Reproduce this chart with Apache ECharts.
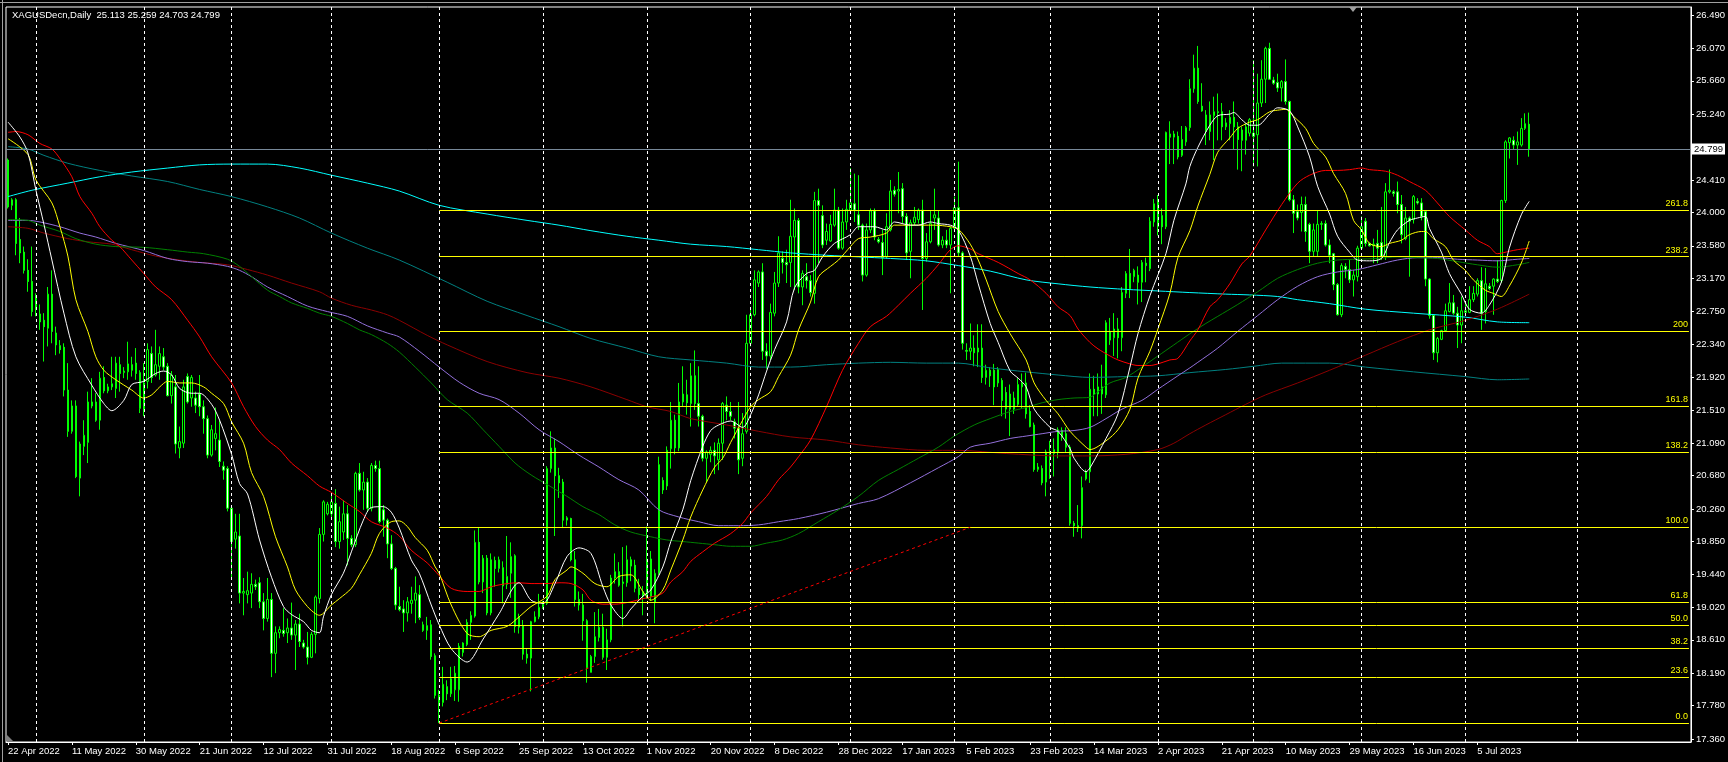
<!DOCTYPE html>
<html><head><meta charset="utf-8">
<script src="https://cdn.jsdelivr.net/npm/echarts@6/dist/echarts.min.js"></script>
<style>html,body{margin:0;padding:0;background:#000;overflow:hidden}#c{width:1728px;height:762px}</style>
</head><body><div id="c"></div>
<script>
// ---------- data ----------
const tickLabels = ["22 Apr 2022","11 May 2022","30 May 2022","21 Jun 2022","12 Jul 2022","31 Jul 2022","18 Aug 2022","6 Sep 2022","25 Sep 2022","13 Oct 2022","1 Nov 2022","20 Nov 2022","8 Dec 2022","28 Dec 2022","17 Jan 2023","5 Feb 2023","23 Feb 2023","14 Mar 2023","2 Apr 2023","21 Apr 2023","10 May 2023","29 May 2023","16 Jun 2023","5 Jul 2023"];
const tickEvery = 16;
const monthStarts = [7,34,56,81,108,134,160,186,211,237,261,288,312,339,365,393];
const slotCount = 422;
const yTicks = [17.36,17.78,18.19,18.61,19.02,19.44,19.85,20.26,20.68,21.09,21.51,21.92,22.34,22.75,23.17,23.58,24.00,24.41,25.24,25.66,26.07,26.49];

const open = [
24.66,24.09,24.16,23.66,23.50,23.27,23.13,22.78,22.72,22.64,
22.54,22.97,22.48,22.32,22.30,21.76,21.24,21.56,20.65,21.05,
21.10,21.61,21.61,21.38,21.92,21.75,21.80,21.78,22.08,21.98,
21.99,22.08,22.10,21.98,21.52,21.87,22.22,21.95,22.06,22.18,
22.06,21.69,21.80,21.03,21.09,21.93,21.66,21.66,21.71,21.55,
21.40,20.94,21.15,21.13,20.80,20.77,20.27,19.88,19.92,19.20,
19.18,19.20,19.31,19.33,19.09,18.88,19.12,18.44,18.70,18.73,
18.70,18.76,18.67,18.81,18.57,18.52,18.39,18.68,19.13,19.94,
20.20,20.20,20.33,19.85,19.97,20.20,19.89,19.81,20.71,20.50,
20.60,20.27,20.81,20.77,20.25,20.12,19.82,19.51,19.03,19.00,
18.95,19.07,19.11,19.18,18.80,18.73,18.80,18.41,17.91,17.82,
18.02,17.93,17.98,17.98,18.45,18.55,18.83,18.91,19.84,19.34,
19.64,18.95,19.61,19.51,19.52,19.31,19.45,19.67,18.77,18.79,
18.43,18.38,18.84,18.90,19.02,19.07,20.77,21.03,20.68,20.60,
20.12,20.14,19.62,19.12,19.05,18.85,18.20,18.40,18.64,18.77,
18.39,18.61,19.39,19.47,19.32,19.33,19.62,19.55,19.26,19.16,
19.16,19.63,19.08,19.45,20.62,20.55,21.02,21.38,21.03,21.61,
21.70,21.59,21.94,21.59,21.43,20.90,20.95,21.00,20.88,21.09,
21.57,21.49,21.36,21.28,20.90,21.24,22.35,22.71,23.11,23.25,
22.25,22.19,22.73,23.11,23.42,23.37,23.37,23.69,23.90,23.06,
23.19,23.14,22.98,24.15,23.96,23.65,23.64,23.84,24.03,23.55,
23.88,24.03,24.11,23.97,23.84,23.21,23.78,24.02,23.66,23.62,
23.44,23.78,24.28,24.27,24.30,23.95,23.51,23.87,23.91,24.03,
23.42,23.63,23.93,23.93,23.59,23.65,23.59,23.80,24.06,23.49,
22.26,22.25,22.29,22.29,22.29,21.92,22.01,22.01,21.85,21.88,
21.73,21.71,21.52,21.58,21.80,21.85,21.49,21.32,20.76,20.77,
20.60,20.98,20.96,20.98,21.25,21.21,21.04,20.08,20.05,20.05,
20.64,20.73,21.77,21.71,21.80,21.70,22.50,22.42,22.53,22.42,
22.98,23.23,23.19,23.21,23.12,23.36,23.29,23.88,24.13,23.96,
23.82,24.99,24.95,24.96,24.72,24.89,25.07,25.56,25.82,25.34,
25.23,25.02,25.22,25.27,25.27,25.08,25.12,25.20,25.08,25.04,
24.91,25.00,25.00,24.98,25.38,25.68,26.07,25.67,25.64,25.57,
25.65,25.40,24.16,24.01,24.00,24.10,23.85,23.51,23.51,23.85,
23.86,23.59,23.48,23.09,22.71,23.32,23.28,23.15,23.19,23.55,
23.89,23.61,23.58,23.61,23.62,23.44,24.26,24.26,24.26,24.10,
23.67,23.93,23.91,24.14,24.12,24.01,23.16,22.70,22.23,22.40,
22.51,22.75,22.86,22.73,22.58,22.76,22.74,22.90,22.97,23.14,
22.75,23.07,23.07,23.16,23.14,24.15,24.88,24.91,24.85,24.85,
25.06,25.113];
const high = [
24.68,24.18,24.18,23.93,23.57,23.41,23.57,22.98,22.84,22.73,
23.06,23.27,22.56,22.39,22.35,22.10,21.63,21.63,21.11,21.38,
21.74,21.91,21.72,21.99,22.06,21.84,22.18,22.18,22.18,22.05,
22.37,22.18,22.29,22.01,22.10,22.35,22.31,22.52,22.31,22.29,
22.10,22.00,21.95,21.30,21.89,21.97,21.95,21.74,21.95,21.63,
21.44,21.32,21.54,21.38,20.86,20.80,20.30,20.20,20.20,19.39,
19.47,19.45,19.37,19.40,19.20,19.39,19.20,18.78,18.78,19.01,
18.88,19.08,18.86,18.94,18.61,18.71,18.71,19.17,20.02,20.37,
20.35,20.45,20.51,20.29,20.37,20.31,19.93,20.73,20.84,20.73,
20.65,20.84,20.87,20.87,20.31,20.14,19.93,19.53,19.28,19.11,
19.15,19.28,19.41,19.30,18.84,18.90,18.86,18.44,17.98,18.27,
18.10,18.27,18.28,18.57,18.58,18.87,18.97,19.99,20.03,19.68,
19.68,19.70,19.66,19.66,19.60,19.92,19.84,19.69,18.94,18.86,
18.50,18.85,18.97,19.19,19.10,20.80,21.24,21.15,20.78,20.64,
20.17,20.15,19.73,19.22,19.19,18.87,18.42,18.96,19.00,18.94,
18.75,19.43,19.70,19.59,19.78,19.80,19.66,19.62,19.38,19.29,
20.04,19.73,19.50,20.92,20.66,21.05,21.61,21.45,21.85,22.06,
21.89,22.10,22.26,22.06,21.45,21.00,21.05,21.10,21.15,21.61,
21.68,21.61,21.40,21.61,21.47,22.71,22.79,23.27,23.27,23.36,
22.35,22.85,23.25,23.70,23.51,23.53,24.16,24.05,23.93,23.27,
23.36,23.21,24.26,24.30,24.09,23.86,23.97,24.30,24.07,24.05,
24.16,24.56,24.49,24.47,23.86,23.86,24.05,24.05,23.69,23.78,
23.99,24.41,24.33,24.51,24.37,23.99,23.91,24.07,24.05,24.16,
23.74,24.03,24.30,24.03,23.70,23.78,23.82,24.20,24.64,23.51,
22.35,22.60,22.45,22.59,22.59,22.08,22.05,22.09,22.05,21.91,
21.80,21.83,21.74,21.91,21.97,21.98,21.57,21.35,20.84,20.81,
21.01,21.12,21.15,21.29,21.29,21.29,21.07,20.11,20.31,20.67,
20.76,21.97,21.94,21.97,22.08,22.64,22.67,22.73,22.67,23.06,
23.26,23.54,23.29,23.32,23.40,23.43,23.94,24.17,24.22,24.05,
25.02,25.15,25.03,25.02,25.09,25.09,25.68,25.99,26.10,25.63,
25.29,25.40,25.46,25.50,25.38,25.19,25.29,25.40,25.14,25.08,
25.12,25.19,25.92,25.75,25.92,26.09,26.14,25.71,25.75,25.67,
25.93,25.41,24.22,24.10,24.20,24.20,23.87,23.86,24.03,23.89,
23.90,23.66,23.49,23.11,23.36,23.36,23.40,23.27,23.58,23.95,
23.93,23.62,23.67,23.78,24.07,24.37,24.54,24.28,24.39,24.22,
24.07,23.95,24.22,24.18,24.18,24.03,23.17,22.71,22.43,22.52,
22.85,23.11,22.96,22.81,22.94,22.85,23.07,23.07,23.17,23.31,
23.30,23.11,23.17,23.40,24.16,24.91,24.95,24.96,25.02,25.19,
25.25,25.259];
const low = [
24.05,24.03,23.46,23.36,23.23,23.00,22.69,22.69,22.52,22.12,
22.31,22.35,22.20,22.22,21.68,21.17,21.21,20.65,20.42,20.94,
20.84,21.53,21.36,21.26,21.72,21.72,21.76,21.66,21.74,21.91,
21.89,21.93,21.89,21.47,21.43,21.78,21.85,21.93,21.89,22.01,
21.68,21.59,20.96,20.90,21.03,21.59,21.55,21.47,21.43,21.21,
20.90,20.92,21.00,20.79,20.63,20.23,19.37,19.76,19.07,18.92,
19.07,19.01,19.24,19.01,18.73,18.84,18.14,18.19,18.63,18.65,
18.57,18.61,18.23,18.52,18.50,18.30,18.38,18.44,19.07,19.85,
20.18,20.15,19.78,19.76,19.87,19.55,19.78,19.78,20.48,20.25,
20.23,20.23,20.73,20.08,19.91,19.64,19.49,18.99,18.97,18.71,
18.84,18.94,18.82,18.86,18.71,18.61,18.36,17.87,17.56,17.77,
17.85,17.89,17.84,17.83,18.40,18.53,18.61,18.89,19.31,19.20,
18.92,18.92,19.28,19.46,19.07,19.25,19.14,18.70,18.69,18.36,
18.31,17.96,18.83,18.87,19.00,19.05,20.72,19.92,20.40,20.02,
20.05,19.60,19.03,18.98,18.60,18.07,18.20,18.32,18.59,18.36,
18.23,18.58,19.32,19.28,18.78,19.28,19.35,19.21,19.11,18.92,
19.13,19.10,18.82,19.43,20.45,20.50,20.77,20.95,20.99,21.55,
21.45,21.30,21.51,21.30,20.86,20.60,20.85,20.70,20.75,20.88,
21.38,21.38,21.15,20.70,20.80,21.21,22.31,22.69,23.06,22.14,
22.03,22.14,22.69,23.06,23.23,23.11,23.06,23.02,22.98,22.83,
23.04,22.94,22.85,23.36,23.55,23.59,23.63,23.82,23.53,23.53,
23.78,23.99,23.88,23.78,23.13,23.19,23.74,23.65,23.61,23.21,
23.42,23.76,24.20,23.99,23.86,23.40,23.17,23.84,23.86,22.77,
23.38,23.61,23.78,23.57,23.55,23.55,22.98,23.78,23.44,22.27,
22.14,22.14,22.06,22.05,21.85,21.83,21.80,21.57,21.80,21.43,
21.40,21.18,21.46,21.56,21.53,21.40,21.29,20.73,20.73,20.56,
20.42,20.64,20.67,20.90,21.12,20.98,20.05,19.91,19.97,19.89,
20.62,20.59,21.43,21.43,21.46,21.66,22.33,22.19,22.16,22.25,
22.92,22.92,23.12,22.84,22.87,23.12,23.26,23.82,23.71,23.60,
23.79,24.61,24.61,24.67,24.70,24.84,25.03,25.51,25.37,25.27,
24.85,24.91,24.66,24.91,24.91,25.04,24.91,24.79,24.54,24.52,
24.73,24.96,24.58,24.58,25.33,25.38,25.67,25.61,25.52,25.40,
25.36,24.14,23.74,23.90,23.76,23.63,23.36,23.44,23.44,23.78,
23.57,23.36,23.02,22.70,22.68,23.17,23.11,22.94,23.13,23.53,
23.57,23.57,23.36,23.36,23.40,23.40,24.24,24.20,23.99,23.61,
23.65,23.19,23.86,24.10,23.90,23.07,22.66,22.14,22.11,22.39,
22.50,22.74,22.71,22.29,22.35,22.73,22.73,22.87,22.94,22.52,
22.60,23.02,22.71,23.11,23.11,24.12,24.68,24.80,24.60,24.83,
25.04,24.703];
const close = [
24.07,24.16,23.61,23.49,23.27,23.13,22.75,22.95,22.62,22.56,
22.97,22.50,22.33,22.27,21.76,21.24,21.56,20.67,21.08,21.19,
21.61,21.56,21.38,21.91,21.75,21.80,21.84,22.10,21.97,22.00,
22.09,22.01,21.97,21.53,21.85,22.27,21.92,22.08,22.22,22.05,
21.69,21.95,21.08,21.11,21.80,21.61,21.92,21.57,21.55,21.40,
20.94,21.26,21.21,20.86,20.75,20.27,19.85,19.97,19.20,19.22,
19.23,19.31,19.28,19.09,18.88,19.12,18.44,18.70,18.74,18.69,
18.76,18.67,18.81,18.59,18.52,18.39,18.68,19.15,19.94,20.35,
20.32,20.35,19.85,20.10,20.20,19.89,19.81,20.71,20.50,20.60,
20.27,20.81,20.77,20.10,20.12,19.82,19.51,19.05,18.99,18.95,
19.09,19.11,19.20,18.89,18.73,18.79,18.40,17.91,17.82,18.05,
17.93,18.12,18.19,18.53,18.57,18.83,18.92,19.84,19.34,19.64,
18.95,19.62,19.51,19.62,19.29,19.41,19.66,18.78,18.90,18.43,
18.38,18.84,18.90,19.02,19.06,20.77,21.03,20.68,20.59,20.12,
20.15,19.62,19.12,19.05,18.85,18.26,18.40,18.65,18.77,18.39,
18.61,19.39,19.47,19.30,19.34,19.62,19.54,19.26,19.18,19.22,
19.63,19.16,19.45,20.82,20.50,21.00,21.38,21.03,21.61,21.71,
21.60,21.94,21.59,21.43,20.90,20.98,21.00,20.93,21.09,21.59,
21.49,21.43,21.28,20.88,21.21,22.35,22.71,23.15,23.25,22.25,
22.19,22.74,23.11,23.49,23.37,23.34,23.70,23.90,23.06,23.23,
23.14,22.99,24.15,24.09,23.59,23.76,23.85,24.03,23.55,23.88,
24.04,24.12,24.03,23.84,23.21,23.78,24.02,23.69,23.63,23.43,
23.82,24.27,24.23,24.29,23.95,23.49,23.87,23.94,24.03,23.42,
23.63,23.86,23.97,23.59,23.65,23.59,23.80,24.06,23.49,22.35,
22.25,22.29,22.23,22.24,21.92,22.01,21.94,21.80,22.02,21.63,
21.52,21.52,21.66,21.83,21.85,21.46,21.30,20.76,20.79,20.59,
20.98,20.90,21.01,21.26,21.17,21.04,20.08,20.05,20.02,20.53,
20.73,21.77,21.71,21.80,21.71,22.61,22.39,22.53,22.42,22.99,
23.23,23.04,23.27,23.12,23.37,23.33,23.89,24.11,23.82,23.82,
25.01,24.95,24.99,24.70,24.92,25.07,25.56,25.82,25.40,25.28,
25.02,25.23,25.27,25.26,25.08,25.13,25.20,25.08,24.92,24.91,
25.08,25.17,24.96,25.38,25.68,26.07,25.68,25.63,25.57,25.65,
25.40,24.16,23.99,23.93,24.10,23.76,23.51,23.78,23.85,23.86,
23.59,23.46,23.09,22.71,23.33,23.28,23.15,23.21,23.55,23.82,
23.61,23.58,23.60,23.55,23.44,24.26,24.28,24.24,24.10,23.72,
23.93,23.89,24.20,24.12,23.95,23.16,22.70,22.23,22.41,22.51,
22.76,22.86,22.73,22.58,22.76,22.74,22.90,22.98,23.14,22.73,
23.10,23.04,23.16,23.13,24.15,24.89,24.94,24.85,24.89,25.06,
25.12,24.799];

// moving-average lines as [bar, price]
const maWhite = [[0,25.14],[3,24.95],[5,24.75],[7,24.28],[9,23.85],[11,23.40],[14,22.73],[17,22.18],[21,21.82],[24,21.59],[26,21.50],[29,21.63],[31,21.83],[34,21.87],[37,21.97],[39,22.00],[41,21.95],[43,21.78],[46,21.72],[48,21.72],[51,21.58],[53,21.38],[56,20.95],[58,20.58],[60,20.45],[63,19.87],[66,19.40],[69,19.03],[71,18.93],[74,18.84],[76,18.73],[78,18.70],[79,18.90],[81,19.18],[84,19.45],[86,19.72],[89,20.12],[91,20.28],[94,20.29],[96,20.22],[98,20.02],[101,19.62],[103,19.45],[106,19.05],[108,18.80],[111,18.50],[115,18.33],[119,18.62],[123,18.94],[128,19.33],[131,19.11],[134,19.07],[137,19.32],[140,19.66],[143,19.77],[146,19.70],[149,19.28],[151,19.05],[154,18.88],[156,19.00],[159,19.16],[161,19.24],[164,19.53],[166,19.85],[169,20.25],[171,20.62],[174,21.05],[176,21.25],[178,21.32],[181,21.37],[184,21.29],[186,21.45],[188,21.70],[190,22.00],[192,22.27],[195,22.62],[197,23.05],[200,23.23],[202,23.27],[204,23.44],[207,23.61],[211,23.72],[213,23.82],[217,23.82],[220,23.78],[222,23.88],[226,23.84],[228,23.84],[231,23.88],[233,23.86],[236,23.84],[238,23.78],[241,23.45],[243,23.10],[246,22.60],[248,22.36],[251,22.00],[253,21.91],[255,21.80],[257,21.52],[261,21.29],[263,21.24],[266,21.02],[267,20.90],[270,20.73],[271,20.78],[275,21.15],[278,21.46],[281,22.05],[283,22.47],[286,22.95],[290,23.48],[292,23.90],[295,24.36],[296,24.58],[298,24.82],[301,25.10],[303,25.22],[306,25.24],[307,25.26],[309,25.17],[311,25.10],[313,25.10],[316,25.24],[318,25.32],[321,25.28],[323,25.08],[326,24.70],[328,24.33],[331,23.98],[333,23.70],[336,23.50],[338,23.40],[341,23.39],[344,23.42],[346,23.62],[348,23.78],[351,23.90],[353,23.93],[355,23.95],[356,23.80],[359,23.50],[361,23.23],[364,22.97],[366,22.78],[369,22.73],[371,22.83],[374,23.12],[376,23.55],[379,23.97],[381,24.14]];
const maYellow = [[0,24.93],[5,24.73],[7,24.41],[11,24.12],[13,23.82],[15,23.45],[17,22.90],[20,22.50],[22,22.18],[24,22.01],[27,21.89],[31,21.76],[34,21.66],[36,21.70],[38,21.80],[40,21.87],[43,21.85],[46,21.85],[49,21.80],[51,21.72],[54,21.59],[56,21.36],[59,21.09],[61,20.72],[64,20.42],[67,19.91],[70,19.53],[72,19.24],[75,19.03],[77,18.94],[78,18.92],[81,19.05],[83,19.13],[86,19.26],[88,19.43],[91,19.70],[93,19.95],[96,20.10],[98,20.11],[100,20.04],[102,19.90],[105,19.74],[107,19.53],[108,19.45],[111,19.05],[115,18.69],[118,18.65],[121,18.73],[125,18.78],[128,18.90],[131,19.03],[135,19.16],[137,19.37],[140,19.49],[141,19.53],[144,19.45],[147,19.32],[150,19.28],[153,19.41],[156,19.43],[159,19.22],[161,19.11],[164,19.24],[166,19.49],[169,19.87],[171,20.16],[174,20.50],[177,20.79],[179,20.90],[181,21.10],[184,21.38],[186,21.55],[188,21.64],[191,21.74],[193,21.93],[196,22.20],[198,22.52],[201,22.87],[203,23.19],[206,23.32],[208,23.40],[211,23.57],[213,23.67],[216,23.69],[220,23.74],[222,23.84],[226,23.84],[229,23.84],[232,23.84],[236,23.82],[238,23.79],[241,23.60],[243,23.40],[245,23.15],[248,22.75],[251,22.47],[255,22.14],[257,21.85],[260,21.63],[263,21.46],[266,21.24],[270,21.04],[271,21.01],[275,21.12],[278,21.26],[281,21.52],[283,21.91],[286,22.25],[288,22.53],[291,22.98],[293,23.43],[296,23.77],[298,24.08],[301,24.48],[303,24.76],[306,24.94],[308,25.06],[311,25.14],[313,25.17],[316,25.27],[318,25.29],[320,25.30],[322,25.21],[325,25.06],[327,24.87],[330,24.70],[332,24.49],[335,24.24],[337,23.90],[339,23.78],[341,23.61],[344,23.57],[346,23.61],[349,23.65],[351,23.72],[354,23.76],[355,23.76],[357,23.67],[360,23.57],[362,23.40],[365,23.27],[367,23.15],[370,23.02],[372,22.98],[374,22.94],[376,23.07],[379,23.36],[381,23.64]];
const maRed = [[0,25.01],[2,25.02],[5,24.98],[8,24.87],[11,24.80],[13,24.68],[16,24.45],[18,24.20],[21,23.99],[23,23.82],[26,23.65],[28,23.57],[31,23.40],[34,23.23],[37,23.06],[41,22.90],[45,22.64],[48,22.43],[51,22.18],[56,21.85],[59,21.55],[62,21.30],[65,21.13],[68,21.01],[71,20.84],[75,20.68],[78,20.55],[81,20.47],[85,20.33],[88,20.23],[91,20.10],[95,20.02],[98,19.92],[101,19.74],[105,19.58],[108,19.42],[111,19.26],[115,19.22],[118,19.22],[121,19.28],[125,19.32],[128,19.33],[131,19.32],[135,19.32],[138,19.33],[141,19.32],[144,19.24],[146,19.11],[149,19.06],[152,19.06],[156,19.09],[159,19.13],[161,19.15],[164,19.20],[166,19.34],[169,19.47],[171,19.60],[174,19.72],[177,19.83],[181,19.95],[184,20.08],[186,20.21],[190,20.42],[193,20.63],[196,20.79],[198,20.92],[201,21.13],[205,21.55],[209,22.01],[213,22.35],[216,22.56],[220,22.69],[223,22.83],[226,22.98],[230,23.17],[233,23.34],[236,23.53],[238,23.58],[241,23.54],[243,23.48],[248,23.37],[253,23.23],[256,23.15],[260,22.98],[263,22.81],[266,22.70],[268,22.53],[271,22.36],[273,22.28],[276,22.19],[278,22.14],[281,22.09],[283,22.07],[286,22.07],[288,22.09],[291,22.14],[293,22.16],[296,22.38],[298,22.52],[301,22.81],[303,22.90],[306,23.10],[309,23.35],[311,23.45],[315,23.78],[319,24.10],[323,24.37],[326,24.47],[330,24.53],[333,24.53],[336,24.54],[339,24.56],[341,24.54],[345,24.52],[348,24.47],[351,24.39],[355,24.28],[358,24.12],[361,23.95],[365,23.78],[368,23.65],[371,23.57],[373,23.48],[376,23.51],[378,23.53],[381,23.55]];
const maGreen = [[0,23.91],[5,23.90],[8,23.84],[13,23.76],[17,23.67],[22,23.60],[27,23.57],[34,23.56],[40,23.53],[45,23.50],[49,23.48],[55,23.41],[58,23.32],[61,23.19],[65,23.02],[68,22.94],[71,22.86],[75,22.79],[78,22.73],[81,22.69],[85,22.60],[88,22.52],[91,22.46],[95,22.35],[98,22.24],[102,22.05],[106,21.85],[110,21.64],[115,21.47],[119,21.26],[123,21.05],[127,20.84],[131,20.69],[136,20.54],[140,20.42],[144,20.29],[148,20.19],[152,20.06],[156,19.97],[161,19.91],[165,19.87],[169,19.85],[173,19.83],[177,19.81],[181,19.79],[186,19.79],[190,19.83],[194,19.87],[198,19.95],[203,20.10],[208,20.25],[213,20.42],[218,20.62],[223,20.76],[228,20.90],[233,21.04],[237,21.18],[242,21.32],[246,21.40],[251,21.49],[255,21.54],[259,21.60],[263,21.64],[267,21.66],[271,21.67],[273,21.74],[276,21.85],[280,21.92],[284,22.05],[288,22.19],[292,22.33],[296,22.47],[300,22.60],[303,22.69],[308,22.84],[313,23.00],[318,23.17],[323,23.28],[328,23.36],[333,23.40],[338,23.41],[343,23.42],[348,23.44],[353,23.43],[358,23.42],[363,23.38],[368,23.34],[373,23.31],[378,23.34],[381,23.37]];
const maPurple = [[0,23.90],[5,23.90],[8,23.88],[13,23.82],[18,23.74],[22,23.69],[27,23.61],[34,23.52],[40,23.42],[45,23.38],[50,23.36],[55,23.32],[58,23.27],[61,23.19],[65,23.06],[70,22.94],[75,22.82],[80,22.75],[85,22.69],[90,22.57],[95,22.48],[98,22.43],[103,22.25],[108,22.05],[113,21.86],[118,21.72],[123,21.64],[128,21.47],[133,21.26],[138,21.11],[143,20.94],[148,20.79],[153,20.63],[158,20.50],[163,20.25],[168,20.16],[173,20.10],[178,20.05],[183,20.05],[188,20.06],[193,20.10],[198,20.14],[205,20.22],[213,20.33],[218,20.39],[226,20.59],[233,20.78],[238,20.92],[241,21.04],[246,21.09],[251,21.15],[255,21.18],[259,21.21],[263,21.24],[267,21.25],[271,21.29],[275,21.40],[279,21.52],[284,21.63],[288,21.77],[293,21.94],[296,22.04],[298,22.11],[303,22.29],[308,22.50],[313,22.70],[318,22.90],[323,23.07],[328,23.19],[333,23.25],[338,23.28],[343,23.34],[348,23.40],[353,23.43],[358,23.43],[363,23.41],[368,23.40],[373,23.39],[378,23.41],[381,23.42]];
const maMaroon = [[0,23.82],[5,23.80],[9,23.74],[15,23.67],[20,23.63],[26,23.60],[31,23.53],[37,23.45],[43,23.40],[48,23.37],[55,23.34],[60,23.28],[65,23.21],[71,23.11],[78,23.00],[81,22.92],[86,22.83],[91,22.77],[95,22.71],[98,22.64],[105,22.45],[110,22.33],[120,22.12],[130,21.98],[138,21.91],[146,21.80],[155,21.64],[160,21.55],[166,21.49],[171,21.40],[180,21.32],[188,21.24],[196,21.17],[205,21.13],[213,21.07],[221,21.03],[230,21.00],[238,21.00],[250,20.96],[263,20.93],[271,20.93],[280,20.95],[288,21.01],[292,21.09],[296,21.21],[300,21.32],[305,21.45],[310,21.58],[315,21.70],[323,21.85],[331,22.01],[340,22.20],[348,22.37],[356,22.52],[365,22.64],[373,22.78],[381,22.97]];
const maTeal = [[0,24.83],[5,24.80],[9,24.72],[15,24.62],[23,24.53],[31,24.46],[40,24.39],[48,24.29],[56,24.20],[65,24.07],[73,23.93],[81,23.74],[90,23.55],[98,23.40],[110,23.12],[120,22.88],[130,22.70],[138,22.56],[146,22.41],[155,22.29],[163,22.18],[171,22.14],[180,22.10],[188,22.05],[196,22.05],[205,22.08],[213,22.10],[221,22.11],[230,22.10],[238,22.10],[246,22.04],[255,21.99],[263,21.95],[271,21.92],[280,21.93],[288,21.94],[296,21.98],[305,22.02],[312,22.06],[319,22.10],[331,22.10],[340,22.05],[352,21.99],[365,21.93],[373,21.89],[381,21.90]];
const maCyan = [[0,24.20],[6,24.28],[15,24.37],[23,24.45],[31,24.51],[40,24.56],[48,24.60],[56,24.61],[65,24.61],[73,24.56],[81,24.47],[90,24.37],[98,24.27],[108,24.09],[120,23.98],[130,23.90],[138,23.84],[146,23.77],[155,23.70],[163,23.65],[171,23.60],[180,23.57],[188,23.53],[196,23.49],[205,23.46],[213,23.44],[221,23.42],[230,23.39],[238,23.33],[246,23.26],[255,23.15],[263,23.10],[271,23.06],[280,23.03],[288,23.01],[296,22.99],[305,22.97],[311,22.96],[318,22.94],[323,22.90],[331,22.85],[340,22.78],[352,22.73],[365,22.68],[373,22.62],[381,22.61]];

// Fibonacci tool anchors and trend line
const fibLow = 17.56, fibHigh = 20.03, fibStartBar = 108;
const fibLevels = [0, 23.6, 38.2, 50, 61.8, 100, 138.2, 161.8, 200, 238.2, 261.8];
const fibLabels = ['0.0','23.6','38.2','50.0','61.8','100.0','138.2','161.8','200','238.2','261.8'];
const trendFrom = [108, 17.56], trendTo = [241, 20.03];
const lastPrice = 24.799;
const titleText = 'XAGUSDecn,Daily  25.113 25.259 24.703 24.799';

// ---------- chart ----------
const FONT = '"Liberation Sans", Arial, sans-serif';
const slots = Array.from({length: slotCount}, (_, i) => String(i));
const candles = open.map((o, i) => [o, close[i], low[i], high[i]]);
const showTick = (i) => i % tickEvery === 0 && (i / tickEvery) < tickLabels.length;

function maSeries(data, color) {
  return {type: 'line', data, smooth: 0.3, symbol: 'none', silent: true, z: 3,
    lineStyle: {color, width: 1}, animation: false};
}

const fibLineData = fibLevels.map((lv, k) => {
  const price = fibLow + (fibHigh - fibLow) * lv / 100;
  return [
    {coord: [fibStartBar, price], label: {show: true, formatter: fibLabels[k]}},
    {coord: [slotCount - 1, price]}
  ];
});

const chart = echarts.init(document.getElementById('c'), null, {renderer: 'canvas'});
chart.setOption({
  backgroundColor: '#000',
  animation: false,
  grid: {left: 6, right: 35, top: 7, bottom: 20, show: true, borderColor: '#ffffff', borderWidth: 1, backgroundColor: 'transparent'},
  xAxis: {
    type: 'category', data: slots, boundaryGap: true,
    axisLine: {show: true, lineStyle: {color: '#ffffff', width: 1}},
    axisTick: {show: true, alignWithLabel: true, length: 3, interval: (i) => showTick(i), lineStyle: {color: '#ffffff'}},
    axisLabel: {show: true, interval: (i) => showTick(i), formatter: (v, i) => showTick(i) ? tickLabels[i / tickEvery] : '',
      color: '#ffffff', fontSize: 9.5, fontFamily: FONT, align: 'left', margin: 4},
    splitLine: {show: false}
  },
  yAxis: {
    type: 'value', position: 'right', min: 17.322, max: 26.591,
    axisLine: {show: true, lineStyle: {color: '#ffffff', width: 1}},
    axisTick: {show: true, length: 3, customValues: yTicks, lineStyle: {color: '#ffffff'}},
    axisLabel: {show: true, customValues: yTicks, formatter: (v) => v.toFixed(3), color: '#ffffff', fontSize: 9.5, fontFamily: FONT, margin: 5},
    splitLine: {show: false}
  },
  series: [
    { // month separators
      type: 'line', data: [], z: 1, silent: true,
      markLine: {silent: true, symbol: ['none', 'none'], animation: false,
        lineStyle: {color: '#ffffff', type: [3, 3], width: 1},
        label: {show: false},
        data: monthStarts.map(m => ({xAxis: m}))}
    },
    {
      type: 'candlestick', data: candles, barWidth: 2, z: 2, silent: true,
      itemStyle: {color: '#000000', color0: '#ffffff', borderColor: '#00ff00', borderColor0: '#00ff00', borderColorDoji: '#00ff00', borderWidth: 1}
    },
    maSeries(maTeal, '#008080'),
    maSeries(maCyan, '#00ffff'),
    maSeries(maMaroon, '#8b0000'),
    maSeries(maPurple, '#9370db'),
    maSeries(maGreen, '#008000'),
    maSeries(maRed, '#ff0000'),
    maSeries(maYellow, '#ffff00'),
    maSeries(maWhite, '#ffffff'),
    { // fibo, trend line, bid line
      type: 'line', data: [], z: 4, silent: true,
      markLine: {silent: true, symbol: ['none', 'none'], animation: false, precision: 3,
        lineStyle: {color: '#ffff00', type: 'solid', width: 1},
        label: {show: false, position: 'insideEndTop', color: '#ffff00', fontSize: 9, fontFamily: FONT, distance: [1, 2]},
        data: [
          ...fibLineData,
          [{coord: trendFrom, lineStyle: {color: '#ff0000', type: [3, 3], width: 1}, label: {show: false}}, {coord: trendTo}],
          {yAxis: lastPrice, lineStyle: {color: '#778899', type: 'solid', width: 1},
            label: {show: true, position: 'end', formatter: lastPrice.toFixed(3), color: '#000000', backgroundColor: '#ffffff',
              padding: [1, 2, 0, 2], fontSize: 9.5, fontFamily: FONT, distance: 1}}
        ]}
    }
  ],
  graphic: [
    {type: 'text', x: 12, y: 15, silent: true, style: {text: titleText, fill: '#ffffff', fontSize: 9.5, fontFamily: FONT, verticalAlign: 'middle'}},
    {type: 'line', silent: true, shape: {x1: 0, y1: 2.5, x2: 1728, y2: 2.5}, style: {stroke: '#a0a0a0', lineWidth: 1}},
    {type: 'line', silent: true, shape: {x1: 2.5, y1: 0, x2: 2.5, y2: 762}, style: {stroke: '#a0a0a0', lineWidth: 1}},
    {type: 'polygon', silent: true, shape: {points: [[7, 735], [7, 742], [14, 742]]}, style: {fill: '#808080'}},
    {type: 'polygon', silent: true, shape: {points: [[1349, 7], [1357, 7], [1353, 12]]}, style: {fill: '#a0a0a0'}}
  ]
});
</script>
</body></html>
